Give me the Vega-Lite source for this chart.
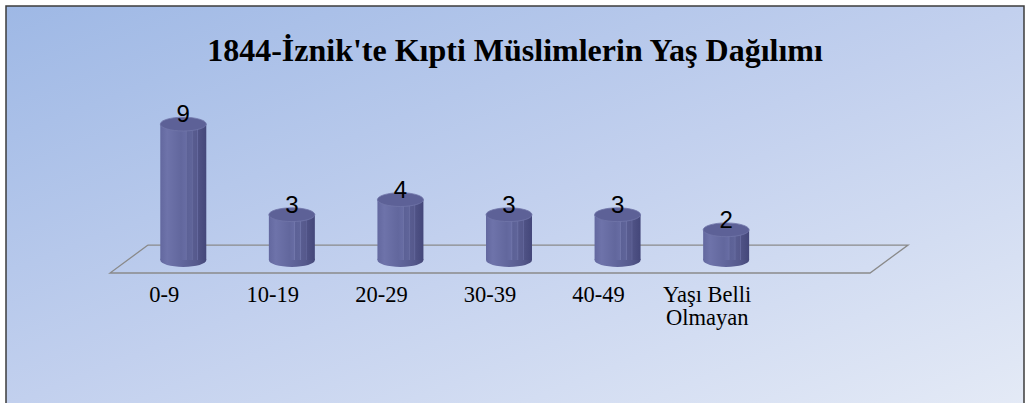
{
  "$schema": "https://vega.github.io/schema/vega-lite/v6.json",
  "width": 1018,
  "height": 400,
  "autosize": {"type": "none"},
  "padding": {"left": 6, "top": 6, "right": 3, "bottom": 0},
  "background": "white",
  "config": {
    "view": {
      "fill": {"gradient": "linear", "x1": 0, "y1": 0, "x2": 1, "y2": 1,
        "stops": [{"offset": 0, "color": "#9eb8e5"}, {"offset": 0.5, "color": "#c2d0ee"}, {"offset": 1, "color": "#e4eaf6"}]},
      "stroke": "#3c3c3c",
      "strokeWidth": 1.5
    }
  },
  "title": {
    "text": "1844-İznik'te Kıpti Müslimlerin Yaş Dağılımı",
    "font": "Liberation Serif",
    "fontSize": 32,
    "fontWeight": "bold",
    "color": "black",
    "anchor": "middle",
    "frame": "group",
    "baseline": "alphabetic",
    "offset": -87
  },
  "datasets": {
    "counts": [
      {"grup": "0-9", "n": 9},
      {"grup": "10-19", "n": 3},
      {"grup": "20-29", "n": 4},
      {"grup": "30-39", "n": 3},
      {"grup": "40-49", "n": 3},
      {"grup": "Yaşı Belli Olmayan", "n": 2}
    ],
    "floor": [
      {"i": 0, "u": 0.175, "v": 0.99},
      {"i": 1, "u": 7.175, "v": 0.99},
      {"i": 2, "u": 6.825, "v": -0.86},
      {"i": 3, "u": -0.175, "v": -0.86},
      {"i": 4, "u": 0.175, "v": 0.99}
    ]
  },
  "layer": [
    {
      "data": {"name": "floor"},
      "mark": {"type": "line", "color": "#8a8a8a", "strokeWidth": 1.3},
      "encoding": {
        "x": {"field": "u", "type": "quantitative", "scale": {"domain": [-1.133, 8.243], "nice": false, "zero": false}, "axis": null},
        "y": {"field": "v", "type": "quantitative", "scale": {"domain": [-9.669, 16.82], "nice": false, "zero": false}, "axis": null},
        "order": {"field": "i"}
      }
    },
    {
      "data": {"name": "counts"},
      "encoding": {
        "x": {
          "field": "grup",
          "type": "nominal",
          "sort": null,
          "scale": {
            "domain": ["0-9", "10-19", "20-29", "30-39", "40-49", "Yaşı Belli Olmayan", "_"],
            "range": [123, 883],
            "paddingInner": 0,
            "paddingOuter": 0
          },
          "axis": {
            "orient": "bottom",
            "offset": -123,
            "domain": false,
            "ticks": false,
            "grid": false,
            "title": null,
            "labelFont": "Liberation Serif",
            "labelFontSize": 22.5,
            "labelColor": "black",
            "labelPadding": 0,
            "labelOffset": -19,
            "labelAngle": 0,
            "labelLineHeight": 23,
            "labelOverlap": false,
            "labelLimit": 300,
            "labelExpr": "datum.value == 'Yaşı Belli Olmayan' ? ['Yaşı Belli', 'Olmayan'] : (datum.value == '_' ? '' : datum.label)"
          }
        }
      },
      "layer": [
        {
          "mark": {
            "type": "point",
            "shape": "M -1 0 A 1 0.3 0 1 1 1 0 A 1 0.3 0 1 1 -1 0 Z",
            "size": 2116,
            "filled": true,
            "opacity": 1,
            "strokeWidth": 0,
            "fill": {"gradient": "linear", "x1": 0, "y1": 0, "x2": 1, "y2": 0,
              "stops": [{"offset": 0, "color": "#63689f"}, {"offset": 0.15, "color": "#6e73aa"}, {"offset": 0.5, "color": "#60659b"}, {"offset": 0.8, "color": "#55598c"}, {"offset": 1, "color": "#46497a"}]}
          },
          "encoding": {"y": {"datum": 0, "type": "quantitative"}}
        },
        {
          "mark": {
            "type": "bar",
            "width": 46,
            "color": {"gradient": "linear", "x1": 0, "y1": 0, "x2": 1, "y2": 0,
              "stops": [
                {"offset": 0, "color": "#63689f"},
                {"offset": 0.15, "color": "#6e73aa"},
                {"offset": 0.45, "color": "#62679d"},
                {"offset": 0.55, "color": "#676ca3"},
                {"offset": 0.56, "color": "#7479ad"},
                {"offset": 0.58, "color": "#5c6196"},
                {"offset": 0.68, "color": "#5f6499"},
                {"offset": 0.69, "color": "#7075a9"},
                {"offset": 0.71, "color": "#585c90"},
                {"offset": 0.8, "color": "#56598c"},
                {"offset": 0.81, "color": "#666aa0"},
                {"offset": 0.83, "color": "#4f5285"},
                {"offset": 1, "color": "#44477a"}
              ]}
          },
          "encoding": {
            "y": {"field": "n", "type": "quantitative"},
            "y2": {"datum": 0}
          }
        },
        {
          "mark": {
            "type": "point",
            "shape": "M -1 0 A 1 0.3 0 1 1 1 0 A 1 0.3 0 1 1 -1 0 Z",
            "size": 2116,
            "filled": true,
            "opacity": 1,
            "fill": "#5d6197",
            "stroke": "#7176aa",
            "strokeWidth": 0.8
          },
          "encoding": {"y": {"field": "n", "type": "quantitative"}}
        },
        {
          "mark": {
            "type": "text",
            "font": "Liberation Sans",
            "fontSize": 24,
            "color": "black",
            "baseline": "middle",
            "dy": -9
          },
          "encoding": {
            "y": {"field": "n", "type": "quantitative"},
            "text": {"field": "n", "type": "quantitative"}
          }
        }
      ]
    }
  ],
  "resolve": {"scale": {"x": "independent"}}
}
